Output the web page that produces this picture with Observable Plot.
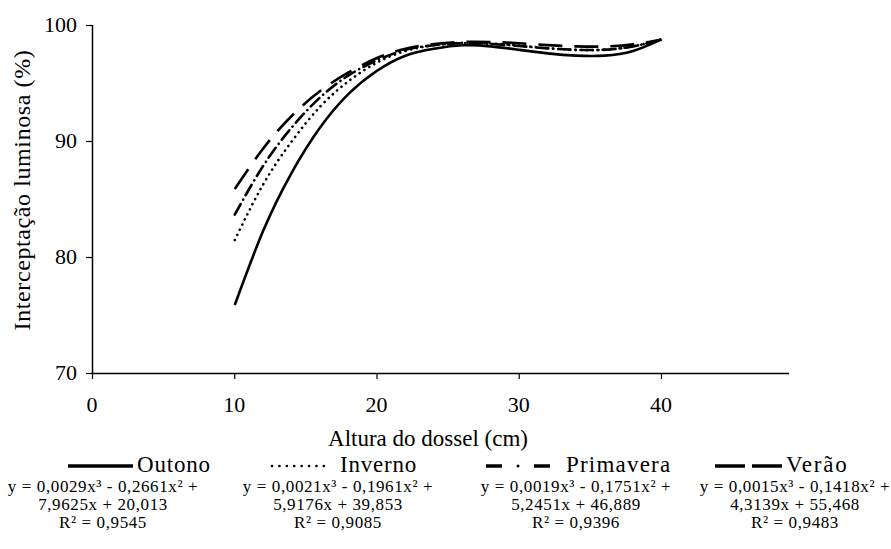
<!DOCTYPE html>
<html>
<head>
<meta charset="utf-8">
<script src="https://cdn.jsdelivr.net/npm/d3@7"></script>
<script src="https://cdn.jsdelivr.net/npm/@observablehq/plot@0.6"></script>
<style>
  html, body { margin: 0; padding: 0; background: white; }
  #wrap { position: relative; width: 891px; height: 549px; font-family: "Liberation Serif", serif; color: black; }
  svg { display: block; }
  .lbl { position: absolute; white-space: nowrap; line-height: 1; font-family: "Liberation Serif", serif; color: black; }
</style>
</head>
<body>
<div id="wrap"></div>
<script>
// ---- data ----
const alturas   = [10, 12, 14, 16, 18, 20, 22, 24, 26, 28, 30, 32, 34, 36, 38, 40];
const outono    = [75.9, 82.3, 87.3, 91.2, 94.1, 96.1, 97.4, 98.0, 98.3, 98.2, 97.9, 97.6, 97.4, 97.4, 97.8, 98.8];
const inverno   = [81.5, 86.3, 90.0, 93.0, 95.2, 96.8, 97.8, 98.3, 98.5, 98.45, 98.27, 98.04, 97.9, 97.9, 98.2, 98.8];
const primavera = [83.7, 87.9, 91.2, 93.8, 95.7, 97.0, 97.9, 98.3, 98.47, 98.41, 98.23, 98.03, 97.9, 97.92, 98.2, 98.8];
const verao     = [85.9, 89.4, 92.2, 94.35, 95.95, 97.2, 98.0, 98.4, 98.59, 98.58, 98.47, 98.31, 98.2, 98.19, 98.37, 98.8];
const series    = ["Outono", "Inverno", "Primavera", "Verão"];
const valores   = [outono, inverno, primavera, verao];
const equacoes  = [
  ["y = 0,0029x³ - 0,2661x² +", "7,9625x + 20,013", "R² = 0,9545"],
  ["y = 0,0021x³ - 0,1961x² +", "5,9176x + 39,853", "R² = 0,9085"],
  ["y = 0,0019x³ - 0,1751x² +", "5,2451x + 46,889", "R² = 0,9396"],
  ["y = 0,0015x³ - 0,1418x² +", "4,3139x + 55,468", "R² = 0,9483"]
];
const xTicks = [0, 10, 20, 30, 40];
const yTicks = [70, 80, 90, 100];
const xLabel = "Altura do dossel (cm)";
const yLabel = "Interceptação luminosa (%)";

// line styles per series
const estilos = {
  "Outono":    {dash: null,          cap: "butt",  w: 2.6},
  "Inverno":   {dash: "0.1,5.6",     cap: "round", w: 2.6},
  "Primavera": {dash: "12,5,0.1,5",  cap: "round", w: 2.6},
  "Verão":     {dash: "24,12",       cap: "butt",  w: 2.6}
};

const tabela = series.flatMap((s, i) => alturas.map((x, j) => ({serie: s, x, y: valores[i][j]})));

const lineMarks = series.map(s => Plot.line(tabela.filter(d => d.serie === s), {
  x: "x", y: "y", curve: "natural", stroke: "black",
  strokeWidth: estilos[s].w,
  strokeDasharray: estilos[s].dash ?? undefined,
  strokeLinecap: estilos[s].cap
}));

const chart = Plot.plot({
  width: 891,
  height: 455,
  marginLeft: 92,
  marginRight: 102,
  marginTop: 25,
  marginBottom: 82,
  style: {fontFamily: "Liberation Serif", fontSize: "22px", color: "black", background: "white"},
  x: {domain: [0, 49]},
  y: {domain: [70, 100]},
  marks: [
    Plot.axisX({ticks: xTicks, tickSize: 6, tickPadding: 16, label: null, stroke: "black", strokeWidth: 1.2}),
    Plot.axisY({ticks: yTicks, tickSize: 6, tickPadding: 10, label: null, stroke: "black", strokeWidth: 1.2}),
    Plot.ruleY([70], {stroke: "black", strokeWidth: 1.5}),
    Plot.ruleX([0], {stroke: "black", strokeWidth: 1.5}),
    ...lineMarks
  ]
});

const wrap = document.getElementById("wrap");
wrap.appendChild(chart);

// tick labels are drawn as HTML text (serif), placed with Plot's own scales
d3.select(chart).selectAll("g[aria-label='x-axis tick label'], g[aria-label='y-axis tick label']").remove();
const sx = chart.scale("x"), sy = chart.scale("y");

function addText(txt, left, top, fs, opts = {}) {
  const d = document.createElement("div");
  d.className = "lbl";
  d.textContent = txt;
  d.style.left = left + "px";
  d.style.top = top + "px";
  d.style.fontSize = fs + "px";
  if (opts.ls) d.style.letterSpacing = opts.ls + "px";
  if (opts.transform) d.style.transform = opts.transform;
  wrap.appendChild(d);
  return d;
}

const FT = 22;
xTicks.forEach(v => addText(String(v), sx.apply(v), 394, FT, {transform: "translateX(-50%)"}));
yTicks.forEach(v => {
  const d = addText(String(v), 0, sy.apply(v) - 0.51 * FT, FT);
  d.style.left = "auto";
  d.style.right = (891 - 77) + "px";
});

// axis titles
addText(xLabel, 428, 446 - 0.8375 * 23, 23, {transform: "translateX(-50%)"});
addText(yLabel, 22, 190, 24, {ls: 0.6, transform: "translate(-50%, -50%) rotate(-90deg)"});

// legend samples (lines) below the chart
const leg = d3.select(wrap).append("svg").attr("width", 891).attr("height", 94);
const rowY = 466 - 455;
function seg(x1, x2, w) {
  leg.append("line").attr("x1", x1).attr("x2", x2).attr("y1", rowY).attr("y2", rowY)
    .attr("stroke", "black").attr("stroke-width", w);
}
seg(68, 133, 3.5);                                   // Outono
leg.append("line").attr("x1", 272).attr("x2", 331).attr("y1", rowY).attr("y2", rowY)
  .attr("stroke", "black").attr("stroke-width", 2.6)
  .attr("stroke-dasharray", "0.1,7.3").attr("stroke-linecap", "round");   // Inverno
seg(486, 502, 3.5);                                  // Primavera
leg.append("circle").attr("cx", 518).attr("cy", rowY).attr("r", 1.5).attr("fill", "black");
seg(534, 550, 3.5);
seg(715, 745, 3.5);                                  // Verão
seg(752, 782, 3.5);

// legend texts
const textos = [
  {tx: 137, ls: 0.8},
  {tx: 340, ls: 0.8},
  {tx: 566, ls: 1.2},
  {tx: 786, ls: 1.8}
];
const centros = [103, 338, 576, 795];
series.forEach((s, i) => {
  addText(s, textos[i].tx, 472.5 - 0.8375 * 23, 23, {ls: textos[i].ls});
  equacoes[i].forEach((linha, k) => {
    addText(linha, centros[i], 492.5 + k * 18 - 0.8375 * 17, 17, {ls: 0.6, transform: "translateX(-50%)"});
  });
});
</script>
</body>
</html>
